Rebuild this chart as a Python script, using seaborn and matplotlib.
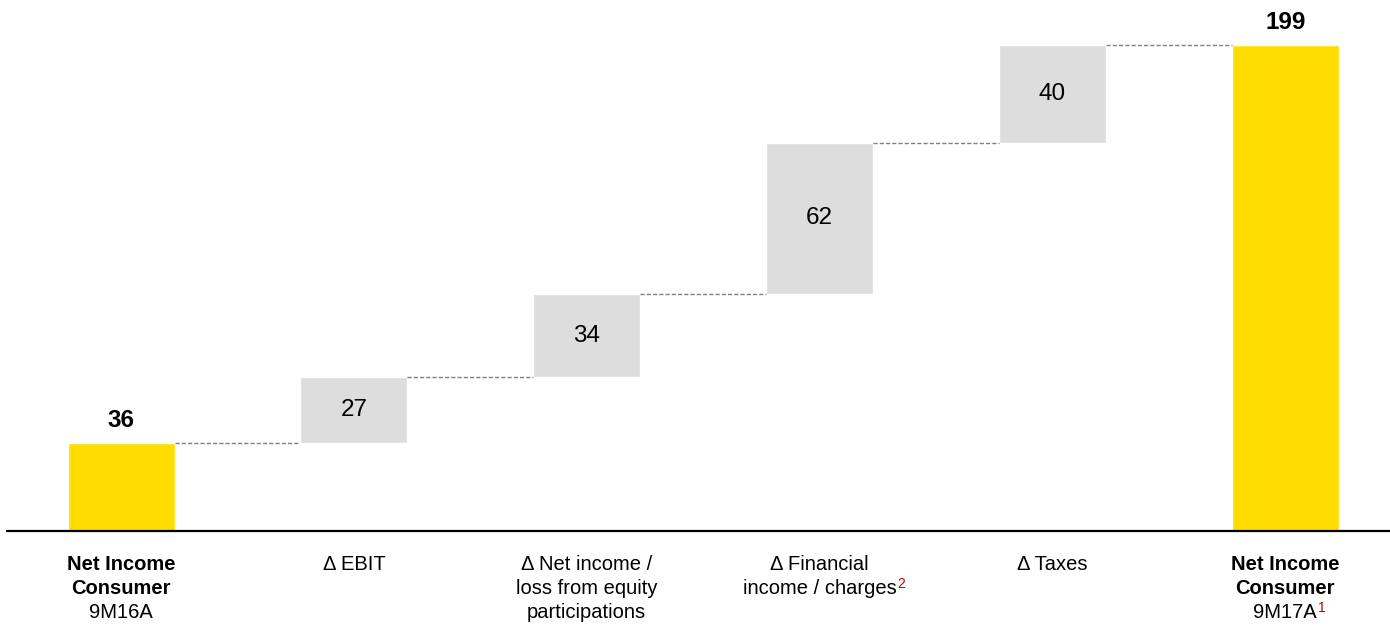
import numpy as np
import pandas as pd
import seaborn as sns
import matplotlib.pyplot as plt

# Data
categories = ["start", "ebit", "equity", "financial", "taxes", "end"]
values = [36, 27, 34, 62, 40, 199]
is_total = [True, False, False, False, False, True]
label_lines = [
    ["Net Income", "Consumer", "9M16A"],
    ["\u0394 EBIT"],
    ["\u0394 Net income /", "loss from equity", "participations"],
    ["\u0394 Financial", "income / charges"],
    ["\u0394 Taxes"],
    ["Net Income", "Consumer", "9M17A"],
]
footnotes = {3: (1, "2"), 5: (2, "1")}  # category index -> (line index, mark)

YELLOW = "#FFDD00"
GREY = "#DDDDDD"

sns.set_theme(style="white")
plt.rcParams["font.family"] = ["Liberation Sans", "DejaVu Sans"]

# waterfall bottoms
bottoms = []
running = 0
for v, tot in zip(values, is_total):
    if tot:
        bottoms.append(0)
        running = v
    else:
        bottoms.append(running)
        running += v
tops = [b + v for b, v in zip(bottoms, values)]

df = pd.DataFrame({"cat": categories, "top": tops, "bottom": bottoms})

fig = plt.figure(figsize=(13.9, 6.41), dpi=100)
ax = fig.add_axes([7 / 1390, 110 / 641, 1 - 7 / 1390, 531 / 641])

bar_w = 0.46
colors = [YELLOW if t else GREY for t in is_total]
sns.barplot(data=df, x="cat", y="top", hue="cat", palette=colors, legend=False,
            width=bar_w, saturation=1, ax=ax, zorder=2)
sns.barplot(data=df, x="cat", y="bottom", color="white", width=bar_w + 0.01,
            saturation=1, ax=ax, zorder=3)

# connectors
for i in range(len(values) - 1):
    level = tops[i]
    ax.plot([i + bar_w / 2, i + 1 - bar_w / 2], [level, level], ls=(0, (3, 1.5)),
            color="#808080", lw=1.0, zorder=4)

# value labels
for i, (v, b, t) in enumerate(zip(values, bottoms, is_total)):
    if t:
        ax.text(i, b + v + 4.5, str(v), ha="center", va="bottom", fontsize=17.5,
                fontweight="bold", color="black", zorder=5)
    else:
        ax.text(i, b + v / 2, str(v), ha="center", va="center", fontsize=17.5,
                color="black", zorder=5)

ax.set_xlim(-0.49, 5.45)
ax.set_ylim(0, 531 / 2.442)
ax.axhline(0, color="black", lw=1.6, zorder=6, clip_on=False)
sns.despine(ax=ax, left=True, bottom=True)
ax.set_xticks([])
ax.set_yticks([])
ax.set_xlabel("")
ax.set_ylabel("")

# category labels, line by line
line_y = [565, 589, 613]
texts = {}
for i, lines in enumerate(label_lines):
    for j, line in enumerate(lines):
        bold = is_total[i] and j < 2
        y_ax = (641 - line_y[j] - 110) / 531
        txt = ax.text(i, y_ax, line, ha="center", va="center", fontsize=14.5,
                      fontweight="bold" if bold else "normal", color="black",
                      transform=ax.get_xaxis_transform(), clip_on=False)
        texts[(i, j)] = txt

fig.canvas.draw()
renderer = fig.canvas.get_renderer()
inv = fig.transFigure.inverted()
for i, (j, mark) in footnotes.items():
    bb = texts[(i, j)].get_window_extent(renderer)
    x0, y0 = inv.transform((bb.x1 + 0.5, bb.y0 + bb.height * 0.78))
    fig.text(x0, y0, mark, ha="left", va="center", fontsize=10, color="#CC0000")

fig.savefig("out.png", dpi=100)
